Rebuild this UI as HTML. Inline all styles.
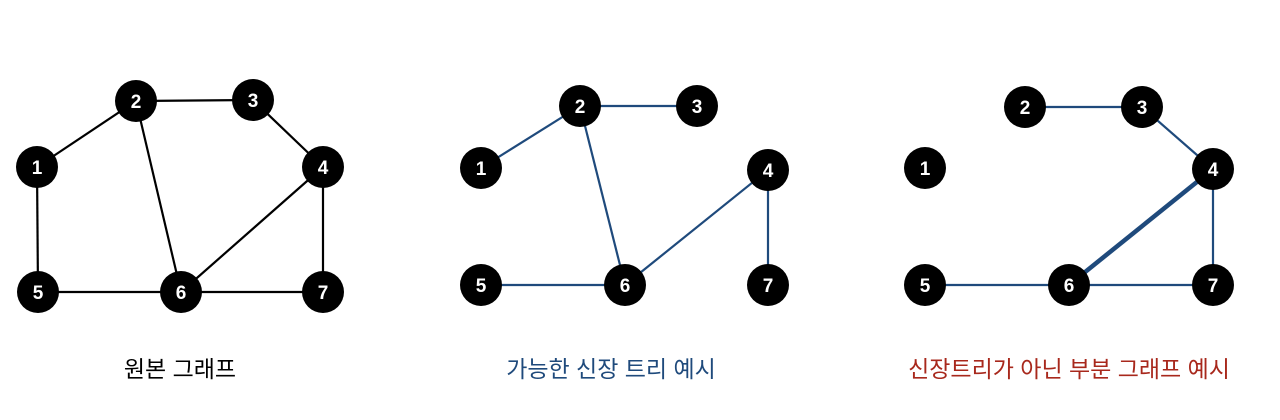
<!DOCTYPE html><html><head><meta charset="utf-8"><style>body{margin:0;background:#fff}svg{display:block}</style></head><body>
<svg width="1280" height="420" xmlns="http://www.w3.org/2000/svg" font-family="'Liberation Sans','Noto Sans CJK KR',sans-serif">
<g stroke="#000" stroke-width="2.2">
<line x1="37" y1="167" x2="136" y2="101"/><line x1="136" y1="101" x2="253" y2="100"/><line x1="253" y1="100" x2="323" y2="167"/>
<line x1="136" y1="101" x2="181" y2="292"/><line x1="37" y1="167" x2="38" y2="292"/><line x1="38" y1="292" x2="323" y2="292"/>
<line x1="323" y1="167" x2="181" y2="292"/><line x1="323" y1="167" x2="323" y2="292"/></g>
<g stroke="#1f4a7c" stroke-width="2.2">
<line x1="481" y1="168" x2="580" y2="106"/><line x1="580" y1="106" x2="697" y2="106"/><line x1="580" y1="106" x2="625" y2="285"/>
<line x1="481" y1="285" x2="625" y2="285"/><line x1="768" y1="170" x2="625" y2="285"/><line x1="768" y1="170" x2="768" y2="285"/>
<line x1="1025" y1="107" x2="1142" y2="107"/><line x1="1142" y1="107" x2="1213" y2="169"/><line x1="1213" y1="169" x2="1213" y2="285"/>
<line x1="925" y1="285" x2="1213" y2="285"/><line x1="1213" y1="169" x2="1069" y2="285" stroke-width="4.5"/></g>
<g fill="#000">
<circle cx="37" cy="167" r="21"/><circle cx="136" cy="101" r="21"/><circle cx="253" cy="100" r="21"/><circle cx="323" cy="167" r="21"/><circle cx="38" cy="292" r="21"/><circle cx="181" cy="292" r="21"/><circle cx="323" cy="292" r="21"/>
<circle cx="481" cy="168" r="21"/><circle cx="580" cy="106" r="21"/><circle cx="697" cy="106" r="21"/><circle cx="768" cy="170" r="21"/><circle cx="481" cy="285" r="21"/><circle cx="625" cy="285" r="21"/><circle cx="768" cy="285" r="21"/>
<circle cx="925" cy="168" r="21"/><circle cx="1025" cy="107" r="21"/><circle cx="1142" cy="107" r="21"/><circle cx="1213" cy="169" r="21"/><circle cx="925" cy="285" r="21"/><circle cx="1069" cy="285" r="21"/><circle cx="1213" cy="285" r="21"/></g>
<g fill="#fff" font-weight="bold" font-size="19" text-anchor="middle">
<text x="37" y="174">1</text><text x="136" y="108">2</text><text x="253" y="107">3</text><text x="323" y="174">4</text><text x="38" y="299">5</text><text x="181" y="299">6</text><text x="323" y="299">7</text>
<text x="481" y="175">1</text><text x="580" y="113">2</text><text x="697" y="113">3</text><text x="768" y="177">4</text><text x="481" y="292">5</text><text x="625" y="292">6</text><text x="768" y="292">7</text>
<text x="925" y="175">1</text><text x="1025" y="114">2</text><text x="1142" y="114">3</text><text x="1213" y="176">4</text><text x="925" y="292">5</text><text x="1069" y="292">6</text><text x="1213" y="292">7</text></g>
<g font-size="23" text-anchor="middle">
<text x="180" y="377" fill="#000">원본 그래프</text>
<text x="611" y="377" fill="#1f4a7c">가능한 신장 트리 예시</text>
<text x="1069" y="377" fill="#a8281c">신장트리가 아닌 부분 그래프 예시</text></g>
</svg></body></html>
